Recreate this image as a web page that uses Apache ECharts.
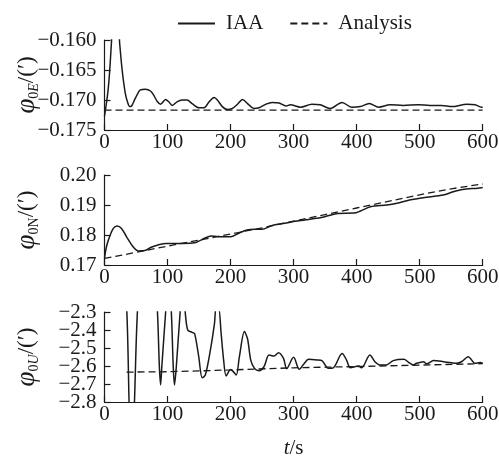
<!DOCTYPE html>
<html><head><meta charset="utf-8">
<script src="https://cdn.jsdelivr.net/npm/echarts@6/dist/echarts.min.js"></script>
<style>html,body{margin:0;padding:0;background:#fff}#c{width:499px;height:458px}</style>
</head><body><div id="c"></div>
<script>
// ---- Data ----
const xTicks = [0, 100, 200, 300, 400, 500, 600];

// Panel 1: phi_0E
const tE_IAA = [0,5,8,11,13,22,24,28,33,37,40,43,49,57,65,73,78,84,89,97,102,107.5,115,123,131,139,150,158,166,174,179,187,195,203,211,219,227,237,245,256,266,277,288,295,311,329,342,358,377,392,406,420,435,453,474,498,516,535,551,575,588,598,600];
const vE_IAA = [-0.1727,-0.1690,-0.1655,-0.1605,-0.1580,-0.1580,-0.1605,-0.1650,-0.1689,-0.1705,-0.1711,-0.1710,-0.1697,-0.1683,-0.1682,-0.1685,-0.1692,-0.1703,-0.1707,-0.1699,-0.1703,-0.1709,-0.1703,-0.1700,-0.1700,-0.1706,-0.1713,-0.1713,-0.1703,-0.1696,-0.1700,-0.1711,-0.1716,-0.1714,-0.1707,-0.1699,-0.1706,-0.1714,-0.1713,-0.1707,-0.1704,-0.1705,-0.1710,-0.1708,-0.1712,-0.1707,-0.1708,-0.1714,-0.1704,-0.1712,-0.1711,-0.1706,-0.1712,-0.1708,-0.1709,-0.1708,-0.1709,-0.1709,-0.1711,-0.1707,-0.1708,-0.1712,-0.1712];
const tE_Ana = [0, 600];
const vE_Ana = [-0.1717, -0.1717];

// Panel 2: phi_0N
const tN_IAA = [0,3,8,14,20,27,35,46,54,64,74,85,98,124,143,153,169,180,200,213,226,239,250,265,286,302,318,344,370,396,406,422,448,464,484,511,537,553,568,592,600];
const vN_IAA = [0.1723,0.1760,0.1794,0.1822,0.1830,0.1822,0.1794,0.1759,0.1747,0.1748,0.1759,0.1767,0.1772,0.1772,0.1774,0.1783,0.1797,0.1794,0.1794,0.1806,0.1817,0.1819,0.1819,0.1831,0.1839,0.1846,0.1850,0.1858,0.1872,0.1873,0.1880,0.1894,0.1900,0.1906,0.1917,0.1926,0.1933,0.1944,0.1952,0.1956,0.1958];
const tN_Ana = [0,50,100,150,200,250,300,350,400,450,500,550,600];
const vN_Ana = [0.1722,0.1742,0.1763,0.1783,0.1803,0.1824,0.1846,0.1868,0.1890,0.1912,0.1934,0.1954,0.1970];

// Panel 3: phi_0U
const tU_IAA = [0,20,34,41,45,54,70,80,84,87,89,91,97,100,102,106,109,111,114,120,124,128,132,139,143,149.5,155,160,168,174.5,177,181,185,189,193,200,204,209,214,222,227,232,238,245,253,261,269,276,284,289,300,309,316,324,337,345,355,363,377,384,390,403,408,421,429,437,447,458,475,482,490,495,506,511,522,538,548,559,567,577,588,596,600];
const vU_IAA = [-1.8,-1.9,-2.2,-2.9,-2.9,-2.2,-1.9,-2.15,-2.3,-2.6,-2.705,-2.6,-2.3,-2.15,-2.15,-2.3,-2.6,-2.705,-2.6,-2.3,-2.15,-2.3,-2.40,-2.413,-2.42,-2.548,-2.665,-2.65,-2.511,-2.363,-2.28,-2.28,-2.418,-2.567,-2.655,-2.619,-2.63,-2.65,-2.548,-2.409,-2.45,-2.567,-2.613,-2.626,-2.604,-2.539,-2.545,-2.526,-2.558,-2.615,-2.552,-2.618,-2.59,-2.563,-2.566,-2.57,-2.613,-2.61,-2.53,-2.567,-2.61,-2.6,-2.61,-2.539,-2.576,-2.594,-2.594,-2.57,-2.563,-2.578,-2.594,-2.585,-2.576,-2.588,-2.57,-2.576,-2.581,-2.585,-2.575,-2.548,-2.585,-2.581,-2.585];
const tU_Ana = [35,100,200,300,400,500,600];
const vU_Ana = [-2.634,-2.632,-2.622,-2.610,-2.603,-2.595,-2.587];
// tick labels of panel 3 drawn by a second (label-only) axis, to avoid auto-hiding
const uLabelsOnSecondAxis = ['-2.4', '-2.7'];

const legendNames = ['IAA', 'Analysis'];

// ---- Chart ----
const FONT = 'Liberation Serif';
const INK = '#1a1a1a';
const zip = (t, v) => t.map((x, i) => [x, v[i]]);
const txt = (v, d) => (v < 0 ? '\u2212' : '') + Math.abs(v).toFixed(d);
const fmt = d => v => '{a|' + txt(v, d) + '}';
const fmtU = second => v => {
  const onSecond = uLabelsOnSecondAxis.indexOf(v.toFixed(1)) >= 0;
  return (onSecond === second) ? '{a|' + txt(v, 1) + '}' : '';
};

const gridBase = { left: 104.5, right: 16.3, containLabel: false, outerBoundsMode: 'none' };
const grids = [
  Object.assign({ top: 40, height: 90 }, gridBase),
  Object.assign({ top: 175, height: 90 }, gridBase),
  Object.assign({ top: 312, height: 90 }, gridBase)
];

function xAxis(i, withName) {
  const a = {
    type: 'value', gridIndex: i, min: xTicks[0], max: xTicks[xTicks.length - 1], interval: 100,
    axisLine: { show: true, onZero: false, lineStyle: { color: INK, width: 1.2 } },
    axisTick: { show: true, inside: true, length: 6, lineStyle: { color: INK, width: 1.2 } },
    axisLabel: { fontFamily: FONT, fontSize: 21, lineHeight: 18, color: INK, margin: 3, showMinLabel: true, showMaxLabel: true, hideOverlap: false },
    splitLine: { show: false }
  };
  if (withName) {
    a.name = '{i|t}{n|/s}';
    a.nameLocation = 'middle';
    a.nameGap = 36;
    a.nameMoveOverlap = false;
    a.nameTextStyle = { rich: {
      i: { fontFamily: FONT, fontSize: 21, fontStyle: 'italic', color: INK },
      n: { fontFamily: FONT, fontSize: 21, color: INK }
    } };
  }
  return a;
}

const labelRich = { a: { fontFamily: FONT, fontSize: 21, color: INK, lineHeight: 12, height: 12 } };

function yAxis(i, min, max, interval, formatter, subA, subB) {
  return {
    type: 'value', gridIndex: i, min: min, max: max, interval: interval,
    axisLine: { show: true, lineStyle: { color: INK, width: 1.2 } },
    axisTick: { show: true, inside: true, length: 6, lineStyle: { color: INK, width: 1.2 } },
    axisLabel: { color: INK, margin: 8, formatter: formatter, hideOverlap: false, showMinLabel: true, showMaxLabel: true, rich: labelRich },
    splitLine: { show: false },
    name: '{p|\u03C6}{s|0}{si|' + subB + '}{n|/(\u2032)}',
    nameLocation: 'middle', nameRotate: 90, nameGap: 63, nameMoveOverlap: false,
    nameTextStyle: { rich: {
      p: { fontFamily: FONT, fontSize: 27, fontStyle: 'italic', color: INK, lineHeight: 30 },
      s: { fontFamily: FONT, fontSize: 14, color: INK, lineHeight: 14, verticalAlign: 'bottom' },
      si: { fontFamily: FONT, fontSize: 14, fontStyle: subA ? 'italic' : 'normal', color: INK, lineHeight: 14, verticalAlign: 'bottom' },
      n: { fontFamily: FONT, fontSize: 23, color: INK, lineHeight: 30 }
    } }
  };
}

const yU2 = {
  type: 'value', gridIndex: 2, position: 'left', offset: 0, min: -2.8, max: -2.3, interval: 0.1,
  axisLine: { show: false }, axisTick: { show: false }, splitLine: { show: false },
  axisLabel: { color: INK, margin: 8, formatter: fmtU(true), hideOverlap: false, showMinLabel: false, showMaxLabel: false, rich: labelRich }
};

function solid(i, t, v) {
  return { name: legendNames[0], type: 'line', xAxisIndex: i, yAxisIndex: i, data: zip(t, v),
    symbol: 'none', clip: true, smooth: 0.3, lineStyle: { color: INK, width: 1.5, type: 'solid' }, itemStyle: { color: INK }, z: 3 };
}
function dashed(i, t, v) {
  return { name: legendNames[1], type: 'line', xAxisIndex: i, yAxisIndex: i, data: zip(t, v),
    symbol: 'none', clip: true, lineStyle: { color: INK, width: 1.3, type: [7, 4] }, itemStyle: { color: INK }, z: 2 };
}

const chart = echarts.init(document.getElementById('c'), null, { renderer: 'canvas' });
chart.setOption({
  animation: false,
  backgroundColor: '#fff',
  legend: {
    data: legendNames, left: 172, top: 8, itemWidth: 37, itemHeight: 14, itemGap: 26,
    itemStyle: { color: 'rgba(0,0,0,0)', borderColor: 'rgba(0,0,0,0)', borderWidth: 0, opacity: 0 },
    textStyle: { fontFamily: FONT, fontSize: 21, color: INK, padding: [0, 0, 0, 6] }
  },
  grid: grids,
  xAxis: [xAxis(0, false), xAxis(1, false), xAxis(2, true)],
  yAxis: [
    yAxis(0, -0.175, -0.160, 0.005, fmt(3), true, 'E'),
    yAxis(1, 0.17, 0.20, 0.01, fmt(2), false, 'N'),
    yAxis(2, -2.8, -2.3, 0.1, fmtU(false), true, 'U'),
    yU2
  ],
  series: [
    solid(0, tE_IAA, vE_IAA), dashed(0, tE_Ana, vE_Ana),
    solid(1, tN_IAA, vN_IAA), dashed(1, tN_Ana, vN_Ana),
    solid(2, tU_IAA, vU_IAA), dashed(2, tU_Ana, vU_Ana)
  ]
});
</script></body></html>
